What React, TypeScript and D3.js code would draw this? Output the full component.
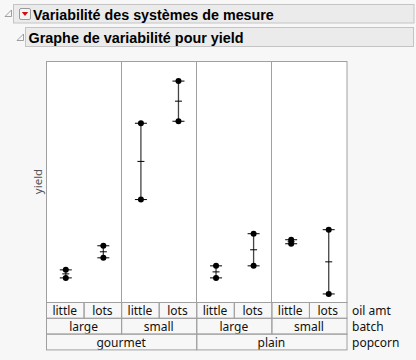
import React from 'react';
import * as d3 from 'd3';

// factor levels (nested: popcorn > batch > oil amt)
const popcornLevels = ['gourmet', 'plain'];
const batchLevels = ['large', 'small'];
const oilLevels = ['little', 'lots'];
const rowLabels = ['oil amt', 'batch', 'popcorn'];

// yield, two replicates per cell, cells in nested order
const yieldRep1 = [8.6, 9.2, 12.1, 18.0, 8.2, 10.4, 9.9, 10.6];
const yieldRep2 = [8.2, 9.8, 15.9, 16.0, 8.8, 8.8, 10.1, 7.4];

const W = 416;
const H = 360;
const plot = { left: 46, right: 346.5, top: 61, bottom: 302 };
const rowH = 15.8;
const font = "'Noto Sans', 'Open Sans', sans-serif";
const titleFont = "'Liberation Sans', Arial, sans-serif";
const border = '#a0a0a0';

const App = () => {
  const cells: { key: string; pop: string; batch: string; oil: string; vals: number[] }[] = [];
  popcornLevels.forEach(p =>
    batchLevels.forEach(b =>
      oilLevels.forEach(o => {
        const i = cells.length;
        cells.push({ key: `${p}-${b}-${o}`, pop: p, batch: b, oil: o, vals: [yieldRep1[i], yieldRep2[i]] });
      })
    )
  );
  const batchGroups = popcornLevels.flatMap(p => batchLevels.map(b => ({ key: `${p}-${b}`, label: b })));

  const xCell = d3.scaleBand().domain(cells.map(c => c.key)).range([plot.left, plot.right]);
  const xBatch = d3.scaleBand().domain(batchGroups.map(g => g.key)).range([plot.left, plot.right]);
  const xPop = d3.scaleBand().domain(popcornLevels).range([plot.left, plot.right]);
  const y = d3.scaleLinear().domain([7, 19]).range([plot.bottom, plot.top]);

  const rows = [
    cells.map(c => ({ x: xCell(c.key)!, w: xCell.bandwidth(), label: c.oil })),
    batchGroups.map(g => ({ x: xBatch(g.key)!, w: xBatch.bandwidth(), label: g.label })),
    popcornLevels.map(p => ({ x: xPop(p)!, w: xPop.bandwidth(), label: p })),
  ];

  return (
    <svg width={W} height={H} style={{ position: 'absolute', left: 0, top: 0, background: '#f7f7f7' }}>
      <defs>
        {rows.map((r, ri) =>
          r.map((c, ci) => (
            <clipPath key={`cp${ri}-${ci}`} id={`cp${ri}-${ci}`}>
              <rect x={c.x} y={plot.bottom + ri * rowH} width={c.w} height={rowH} />
            </clipPath>
          ))
        )}
      </defs>

      {/* outline headers */}
      <path d="M5,16.5 L11.5,10 L11.5,16.5 Z" fill="none" stroke="#888" strokeWidth={0.8} />
      <rect x={13.5} y={4.5} width={400.5} height={18.5} fill="#ebebeb" stroke="#c4c4c4" />
      <rect x={19.5} y={8.5} width={11} height={11} rx={1.5} fill="#f4f4f4" stroke="#9a9a9a" />
      <path d="M21.8,12 L28.2,12 L25,16 Z" fill="#d01010" />
      <text x={33} y={19.5} fontFamily={titleFont} fontWeight="bold" fontSize={14.3} fill="#000">
        Variabilité des systèmes de mesure
      </text>
      <path d="M17,40.5 L23.5,34 L23.5,40.5 Z" fill="none" stroke="#888" strokeWidth={0.8} />
      <rect x={25.5} y={27.5} width={388} height={19} fill="#ebebeb" stroke="#c4c4c4" />
      <text x={28.5} y={42.5} fontFamily={titleFont} fontWeight="bold" fontSize={14.4} fill="#000">
        Graphe de variabilité pour yield
      </text>

      {/* plot frame */}
      <rect x={plot.left + 0.5} y={plot.top + 0.5} width={plot.right - plot.left} height={plot.bottom - plot.top}
        fill="#fff" stroke={border} />
      {batchGroups.slice(1).map(g => (
        <line key={g.key} x1={Math.round(xBatch(g.key)!) + 0.5} x2={Math.round(xBatch(g.key)!) + 0.5}
          y1={plot.top} y2={plot.bottom} stroke={border} />
      ))}

      <text transform={`translate(${42},${(plot.top + plot.bottom) / 2}) rotate(-90)`} textAnchor="middle"
        fontFamily={font} fontSize={11.5} fill="#555">yield</text>

      {/* range bars, cell means, points */}
      {cells.map(c => {
        const cx = xCell(c.key)! + xCell.bandwidth() / 2 + 1;
        const lo = d3.min(c.vals)!;
        const hi = d3.max(c.vals)!;
        const m = d3.mean(c.vals)!;
        return (
          <g key={c.key}>
            <line x1={cx} x2={cx} y1={y(hi)} y2={y(lo)} stroke="#444" strokeWidth={1.3} />
            <line x1={cx - 3.5} x2={cx + 3.5} y1={y(m)} y2={y(m)} stroke="#000" />
            {c.vals.map((v, i) => (
              <g key={i}>
                <line x1={cx - 6} x2={cx + 6} y1={y(v)} y2={y(v)} stroke="#000" />
                <circle cx={cx} cy={y(v)} r={3} fill="#000" />
              </g>
            ))}
          </g>
        );
      })}

      {/* nested factor table */}
      {rows.map((r, ri) =>
        r.map((c, ci) => (
          <g key={`${ri}-${ci}`}>
            <rect x={c.x + 0.5} y={plot.bottom + ri * rowH + 0.5} width={c.w} height={rowH}
              fill="none" stroke={border} />
            <text clipPath={`url(#cp${ri}-${ci})`} x={c.x + c.w / 2} y={plot.bottom + ri * rowH + 13}
              textAnchor="middle" fontFamily={font} fontSize={12} fill="#111">{c.label}</text>
          </g>
        ))
      )}
      {rowLabels.map((l, ri) => (
        <text key={l} x={352} y={plot.bottom + ri * rowH + 13} fontFamily={font} fontSize={12} fill="#111">{l}</text>
      ))}
    </svg>
  );
};

export default App;
